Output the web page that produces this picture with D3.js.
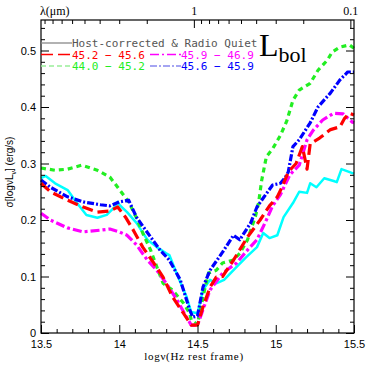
<!DOCTYPE html>
<html>
<head>
<meta charset="utf-8">
<script src="https://cdn.jsdelivr.net/npm/d3@7"></script>
<style>
  body { margin: 0; background: #fff; }
  svg { display: block; }
</style>
</head>
<body>
<svg id="chart" width="374" height="374"></svg>
<script>
// series: [log nu, sigma]
const cyanData = [[13.5,0.274],[13.53,0.278],[13.59,0.265],[13.67,0.253],[13.73,0.23],[13.79,0.209],[13.86,0.204],[13.92,0.209],[13.97,0.223],[13.99,0.232],[14.0,0.227],[14.05,0.214],[14.11,0.195],[14.18,0.165],[14.24,0.152],[14.3,0.141],[14.32,0.138],[14.37,0.103],[14.43,0.064],[14.46,0.037],
  [14.5,0.035],[14.535,0.076],[14.58,0.094],[14.62,0.088],[14.67,0.094],[14.75,0.117],[14.81,0.134],[14.88,0.152],[14.92,0.177],[14.96,0.168],[15.01,0.173],[15.05,0.205],[15.11,0.23],[15.15,0.25],[15.2,0.248],[15.22,0.265],[15.26,0.258],[15.31,0.274],[15.37,0.269],[15.39,0.267],[15.42,0.29],[15.49,0.283],[15.5,0.282]];
const blueData = [[13.5,0.271],[13.56,0.258],[13.67,0.241],[13.77,0.232],[13.88,0.227],[13.94,0.225],[14.0,0.232],[14.06,0.235],[14.11,0.205],[14.2,0.17],[14.26,0.147],[14.32,0.129],[14.39,0.094],[14.45,0.041],[14.47,0.028],
  [14.5,0.03],[14.535,0.081],[14.58,0.111],[14.66,0.143],[14.73,0.173],[14.77,0.165],[14.84,0.195],[14.88,0.223],[14.92,0.239],[14.98,0.262],[15.03,0.265],[15.06,0.275],[15.08,0.285],[15.11,0.33],[15.15,0.342],[15.22,0.372],[15.27,0.40],[15.35,0.425],[15.41,0.448],[15.46,0.462],[15.5,0.462]];
const greenData = [[13.5,0.292],[13.59,0.288],[13.67,0.29],[13.76,0.297],[13.86,0.288],[13.94,0.276],[13.99,0.258],[14.06,0.232],[14.11,0.204],[14.15,0.177],[14.2,0.147],[14.24,0.117],[14.28,0.088],[14.34,0.076],[14.41,0.053],[14.45,0.035],[14.46,0.023],
  [14.5,0.015],[14.54,0.07],[14.57,0.106],[14.62,0.111],[14.66,0.124],[14.73,0.129],[14.77,0.141],[14.82,0.165],[14.84,0.182],[14.87,0.206],[14.89,0.23],[14.91,0.27],[14.94,0.312],[14.98,0.326],[15.03,0.35],[15.07,0.375],[15.11,0.412],[15.15,0.43],[15.22,0.442],[15.27,0.465],[15.33,0.483],[15.36,0.497],[15.41,0.506],[15.47,0.51],[15.5,0.504]];
const redData = [[13.5,0.265],[13.56,0.25],[13.67,0.235],[13.77,0.223],[13.86,0.214],[13.94,0.216],[13.99,0.223],[14.04,0.205],[14.09,0.182],[14.15,0.152],[14.22,0.124],[14.28,0.099],[14.34,0.064],[14.41,0.035],[14.46,0.014],
  [14.5,0.014],[14.535,0.046],[14.58,0.081],[14.62,0.099],[14.66,0.1],[14.73,0.129],[14.82,0.17],[14.9,0.2],[14.96,0.225],[15.01,0.241],[15.04,0.258],[15.08,0.285],[15.13,0.3],[15.17,0.33],[15.2,0.29],[15.22,0.335],[15.28,0.345],[15.35,0.36],[15.41,0.365],[15.44,0.38],[15.47,0.389],[15.5,0.386]];
const magentaData = [[13.5,0.212],[13.56,0.2],[13.67,0.186],[13.77,0.179],[13.88,0.182],[13.94,0.184],[14.0,0.179],[14.05,0.173],[14.11,0.156],[14.18,0.129],[14.24,0.111],[14.3,0.088],[14.37,0.058],[14.43,0.028],[14.46,0.014],
  [14.5,0.014],[14.58,0.076],[14.66,0.106],[14.75,0.124],[14.82,0.147],[14.88,0.165],[14.94,0.2],[14.98,0.225],[15.03,0.245],[15.09,0.28],[15.15,0.297],[15.2,0.342],[15.24,0.359],[15.3,0.377],[15.37,0.389],[15.43,0.388],[15.49,0.373],[15.5,0.372]];

const xTicks = [13.5, 14, 14.5, 15, 15.5];
const xTickLabels = ["13.5", "14", "14.5", "15", "15.5"];
const yTicks = [0, 0.1, 0.2, 0.3, 0.4, 0.5];
const yTickLabels = ["0", "0.1", "0.2", "0.3", "0.4", "0.5"];
const lambdaMajor = [1, 0.1];
const lambdaLabels = ["1", "0.1"];
const lambdaMinor = [9, 8, 7, 6, 5, 4, 3, 2, 0.9, 0.8, 0.7, 0.6, 0.5, 0.4, 0.3, 0.2];

const margin = { top: 20, right: 20, bottom: 41, left: 41 };
const width = 374 - margin.left - margin.right;
const height = 374 - margin.top - margin.bottom;

const svgEl = d3.select("#chart");
const svg = svgEl.append("g").attr("transform", `translate(${margin.left},${margin.top})`);

const scaleX = d3.scaleLinear().domain([13.5, 15.5]).range([0, width]);
const scaleY = d3.scaleLinear().domain([0, 0.554]).range([height, 0]);
// lambda in micron -> log nu
const lamToNu = l => Math.log10(2.998e14 / l);

const line = d3.line().x(d => scaleX(d[0])).y(d => scaleY(d[1]));

// Curves
const series = [
  { data: cyanData, color: "#00ffff", width: 2.5, dash: null },
  { data: greenData, color: "#22ee22", width: 3.2, dash: "5,4" },
  { data: blueData, color: "#0000ff", width: 3.2, dash: "7,2,2,2" },
  { data: magentaData, color: "#ff00ff", width: 3.2, dash: "9,3,3,3" },
  { data: redData, color: "#ff0000", width: 3.2, dash: "11,5" }
];
series.forEach(s => {
  svg.append("path")
    .datum(s.data)
    .attr("d", line)
    .attr("fill", "none")
    .attr("stroke", s.color)
    .attr("stroke-width", s.width)
    .attr("stroke-dasharray", s.dash)
    .attr("stroke-linejoin", "round");
});

// Frame
svg.append("rect")
  .attr("x", 0).attr("y", 0)
  .attr("width", width).attr("height", height)
  .attr("fill", "none").attr("stroke", "#000").attr("stroke-width", 1.2);

// Bottom axis (inward ticks)
const xMinor = d3.range(13.5, 15.51, 0.1).filter(v => Math.abs(v * 2 - Math.round(v * 2)) > 0.01);
svg.append("g")
  .attr("transform", `translate(0,${height})`)
  .call(d3.axisBottom(scaleX).tickValues(xTicks).tickSize(-8).tickFormat((d, i) => xTickLabels[i]))
  .call(g => g.select(".domain").remove())
  .call(g => g.selectAll("text").attr("dy", 12).attr("font-family", "Liberation Sans, Arial").attr("font-size", 11));
svg.append("g")
  .attr("transform", `translate(0,${height})`)
  .call(d3.axisBottom(scaleX).tickValues(xMinor).tickSize(-4).tickFormat(""))
  .call(g => g.select(".domain").remove());

// Top axis: lambda (micron)
svg.append("g")
  .call(d3.axisTop(scaleX).tickValues(lambdaMajor.map(lamToNu)).tickSize(-8).tickFormat((d, i) => lambdaLabels[i]))
  .call(g => g.select(".domain").remove())
  .call(g => g.selectAll("text").attr("dy", -2).attr("font-family", "Liberation Serif, Times").attr("font-size", 12));
svg.append("g")
  .call(d3.axisTop(scaleX).tickValues(lambdaMinor.map(lamToNu)).tickSize(-4).tickFormat(""))
  .call(g => g.select(".domain").remove());

// Left and right axes
const yMinor = d3.range(0, 0.55, 0.02).filter(v => Math.abs(v * 10 - Math.round(v * 10)) > 0.01);
svg.append("g")
  .call(d3.axisLeft(scaleY).tickValues(yTicks).tickSize(-8).tickFormat((d, i) => yTickLabels[i]))
  .call(g => g.select(".domain").remove())
  .call(g => g.selectAll("text").attr("dx", -2).attr("font-family", "Liberation Sans, Arial").attr("font-size", 11));
svg.append("g")
  .call(d3.axisLeft(scaleY).tickValues(yMinor).tickSize(-4).tickFormat(""))
  .call(g => g.select(".domain").remove());
svg.append("g")
  .attr("transform", `translate(${width},0)`)
  .call(d3.axisRight(scaleY).tickValues(yTicks).tickSize(-8).tickFormat(""))
  .call(g => g.select(".domain").remove());
svg.append("g")
  .attr("transform", `translate(${width},0)`)
  .call(d3.axisRight(scaleY).tickValues(yMinor).tickSize(-4).tickFormat(""))
  .call(g => g.select(".domain").remove());

svg.selectAll(".tick line").attr("stroke", "#000").attr("stroke-width", 1);

// Axis titles
svgEl.append("text")
  .attr("x", 194).attr("y", 360)
  .attr("text-anchor", "middle")
  .attr("font-family", "Liberation Serif, Times").attr("font-size", 11)
  .attr("letter-spacing", 0.7)
  .text("log\u03BD(Hz rest frame)");

const yl = svgEl.append("text")
  .attr("transform", `translate(13,172) rotate(-90)`)
  .attr("text-anchor", "middle")
  .attr("font-family", "Liberation Sans, Arial").attr("font-size", 10);
yl.append("tspan").text("\u03C3[log\u03BDL");
yl.append("tspan").attr("font-size", 7).attr("dy", 3).text("\u03BD");
yl.append("tspan").attr("dy", -3).text("] (erg/s)");

svgEl.append("text")
  .attr("x", 40).attr("y", 15)
  .attr("font-family", "Liberation Serif, Times").attr("font-size", 12)
  .text("\u03BB(\u03BCm)");

// Legend
const legendRows = [
  { label: "Host-corrected & Radio Quiet", color: "#555", dash: null, w: 1.3, x: 0, row: 0, lineColor: "#888" },
  { label: "45.2 \u2212 45.6", color: "#ff0000", dash: "12,5", w: 1.3, x: 0, row: 1 },
  { label: "45.9 \u2212 46.9", color: "#ff00ff", dash: "9,3,2,3", w: 1.3, x: 109, row: 1 },
  { label: "44.0 \u2212 45.2", color: "#22ee22", dash: "5,3", w: 1.3, x: 0, row: 2, lineColor: "#99ee99" },
  { label: "45.6 \u2212 45.9", color: "#0000ff", dash: "7,2,2,2", w: 1.3, x: 109, row: 2, lineColor: "#8888ee" }
];
const legend = svgEl.append("g").attr("transform", `translate(${margin.left},43)`);
legendRows.forEach(r => {
  const gy = r.row * 11.5;
  legend.append("line")
    .attr("x1", r.x).attr("x2", r.x + 31)
    .attr("y1", gy).attr("y2", gy)
    .attr("stroke", r.lineColor || r.color)
    .attr("stroke-width", r.w)
    .attr("stroke-dasharray", r.dash);
  legend.append("text")
    .attr("x", r.x + 31).attr("y", gy + 4)
    .attr("fill", r.color)
    .attr("font-family", "DejaVu Sans Mono, monospace").attr("font-size", 11)
    .text(r.label);
});

const lbol = svgEl.append("text")
  .attr("x", 259).attr("y", 56)
  .attr("font-family", "Liberation Serif, Times").attr("font-size", 32);
lbol.append("tspan").text("L");
lbol.append("tspan").attr("font-size", 22).attr("dy", 6).text("bol");
</script>
</body>
</html>
